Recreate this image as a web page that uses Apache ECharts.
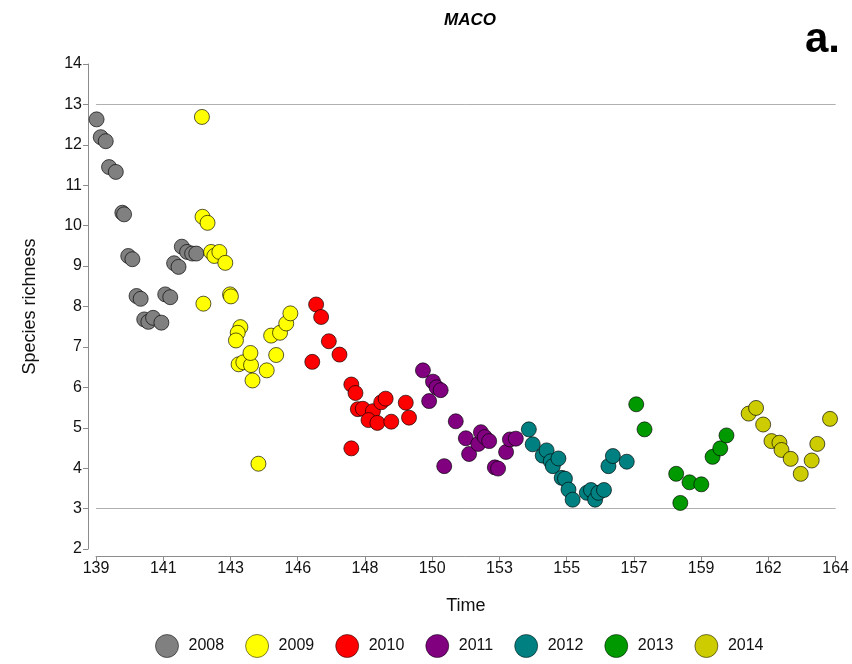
<!DOCTYPE html>
<html>
<head>
<meta charset="utf-8">
<script src="https://cdn.jsdelivr.net/npm/echarts@6/dist/echarts.min.js"></script>
<style>html,body{margin:0;padding:0;background:#fff}#c{width:852px;height:664px}</style>
</head>
<body>
<div id="c"></div>
<script>
// ---- data ----
const years = ['2008', '2009', '2010', '2011', '2012', '2013', '2014'];
const colors = ['#808080', '#ffff00', '#ff0000', '#800080', '#008080', '#009a00', '#cccc00'];

const t2008 = [139.02, 139.16, 139.33, 139.44, 139.67, 139.89, 139.95, 140.09, 140.23, 140.37, 140.51, 140.63, 140.77, 140.93, 141.21, 141.34, 141.51, 141.64, 141.79, 141.90, 142.08, 142.25, 142.39];
const v2008 = [12.63, 12.19, 12.09, 11.45, 11.33, 10.32, 10.28, 9.25, 9.17, 8.26, 8.19, 7.68, 7.62, 7.72, 7.60, 8.30, 8.23, 9.07, 8.98, 9.48, 9.35, 9.31, 9.31];

const t2009 = [142.58, 142.60, 142.77, 142.63, 142.89, 143.00, 143.17, 143.37, 143.53, 143.56, 143.88, 143.79, 143.73, 143.82, 143.98, 144.24, 144.22, 144.29, 144.49, 144.77, 144.92, 145.09, 145.22, 145.43, 145.57];
const v2009 = [12.69, 10.22, 10.07, 8.07, 9.35, 9.25, 9.35, 9.08, 8.30, 8.25, 7.49, 7.35, 7.16, 6.57, 6.62, 6.55, 6.85, 6.17, 4.11, 6.42, 7.28, 6.80, 7.35, 7.58, 7.83];

const t2010 = [146.44, 146.61, 146.31, 146.87, 147.23, 147.63, 147.77, 147.63, 147.85, 148.02, 148.36, 148.21, 148.51, 148.64, 148.79, 148.98, 149.47, 149.58];
const v2010 = [8.05, 7.74, 6.63, 7.14, 6.81, 6.07, 5.86, 4.49, 5.46, 5.47, 5.41, 5.19, 5.12, 5.63, 5.72, 5.15, 5.62, 5.25];

const t2011 = [150.05, 150.39, 150.51, 150.65, 150.26, 150.77, 151.16, 151.50, 151.61, 151.92, 152.01, 152.14, 152.29, 152.48, 152.59, 152.86, 152.99, 153.19];
const v2011 = [6.42, 6.14, 6.00, 5.93, 5.66, 4.05, 5.16, 4.74, 4.35, 4.60, 4.89, 4.77, 4.67, 4.02, 3.99, 4.40, 4.71, 4.73];

const t2012 = [153.63, 153.76, 154.10, 154.23, 154.37, 154.44, 154.63, 154.74, 154.85, 154.97, 155.11, 155.59, 155.73, 155.87, 155.98, 156.17, 156.32, 156.47, 156.94];
const v2012 = [4.96, 4.59, 4.31, 4.44, 4.17, 4.05, 4.24, 3.76, 3.74, 3.47, 3.22, 3.39, 3.46, 3.22, 3.39, 3.46, 4.05, 4.30, 4.16];

const t2013 = [157.26, 157.54, 158.61, 158.75, 159.06, 159.46, 159.84, 160.10, 160.31];
const v2013 = [5.58, 4.96, 3.86, 3.14, 3.65, 3.60, 4.28, 4.49, 4.81];

const t2014 = [161.06, 161.31, 161.55, 161.83, 162.10, 162.17, 162.48, 162.82, 163.19, 163.38, 163.81];
const v2014 = [5.35, 5.49, 5.08, 4.67, 4.63, 4.45, 4.23, 3.86, 4.19, 4.60, 5.22];

const xTickLabels = ['139', '141', '143', '146', '148', '150', '153', '155', '157', '159', '162', '164'];
const xMin = 139, xMax = 164;
const refLines = [13, 3];

// ---- build ----
const times = [t2008, t2009, t2010, t2011, t2012, t2013, t2014];
const values = [v2008, v2009, v2010, v2011, v2012, v2013, v2014];
const step = (xMax - xMin) / (xTickLabels.length - 1);
const tickVals = xTickLabels.map((_, i) => xMin + i * step);

const FONT = 'Liberation Sans, Arial, sans-serif';

const series = years.map((y, k) => {
  const s = {
    name: y,
    type: 'scatter',
    symbol: 'circle',
    symbolSize: 15,
    data: times[k].map((t, i) => [t, values[k][i]]),
    itemStyle: { color: colors[k], borderColor: 'rgba(0,0,0,0.65)', borderWidth: 1, opacity: 1 },
    z: 3
  };
  if (k === 0) {
    s.markLine = {
      silent: true,
      symbol: ['none', 'none'],
      label: { show: false },
      lineStyle: { color: '#b0b0b0', type: 'solid', width: 1 },
      data: refLines.map(v => ({ yAxis: v })),
      z: 1
    };
  }
  return s;
});

const chart = echarts.init(document.getElementById('c'));
chart.setOption({
  backgroundColor: '#fff',
  animation: false,
  textStyle: { fontFamily: FONT },
  title: [
    { text: 'MACO', left: 465, top: 7, textAlign: 'center',
      textStyle: { fontFamily: FONT, fontSize: 17, fontWeight: 'bold', fontStyle: 'italic', color: '#000' } },
    { text: 'a.', right: 7, top: 14,
      textStyle: { fontFamily: FONT, fontSize: 42, fontWeight: 'bold', color: '#000' } }
  ],
  legend: {
    bottom: 1,
    left: 150,
    icon: 'circle',
    itemWidth: 23,
    itemHeight: 23,
    itemGap: 21,
    data: years,
    textStyle: { fontFamily: FONT, fontSize: 16, color: '#111', padding: [0, 0, 0, 5] },
    itemStyle: { borderColor: 'rgba(0,0,0,0.5)', borderWidth: 1 }
  },
  grid: { left: 96, right: 16, top: 64, bottom: 115 },
  xAxis: {
    type: 'value',
    min: xMin,
    max: xMax,
    offset: 7,
    name: 'Time',
    nameLocation: 'middle',
    nameGap: 41,
    nameTextStyle: { fontFamily: FONT, fontSize: 18, color: '#111' },
    axisLine: { show: true, lineStyle: { color: '#8c8c8c', width: 1 } },
    axisTick: { show: true, customValues: tickVals, length: 5, lineStyle: { color: '#8c8c8c' } },
    axisLabel: {
      customValues: tickVals,
      margin: 5,
      fontFamily: FONT, fontSize: 16, color: '#111',
      formatter: v => xTickLabels[Math.round((v - xMin) / step)]
    },
    splitLine: { show: false }
  },
  yAxis: {
    type: 'value',
    min: 2,
    max: 14,
    interval: 1,
    offset: 8,
    name: 'Species richness',
    nameLocation: 'middle',
    nameGap: 49,
    nameTextStyle: { fontFamily: FONT, fontSize: 18, color: '#111' },
    axisLine: { show: true, lineStyle: { color: '#8c8c8c', width: 1 } },
    axisTick: { show: true, length: 5, lineStyle: { color: '#8c8c8c' } },
    axisLabel: { margin: 6, fontFamily: FONT, fontSize: 16, color: '#111' },
    splitLine: { show: false }
  },
  series: series
});
</script>
</body>
</html>
